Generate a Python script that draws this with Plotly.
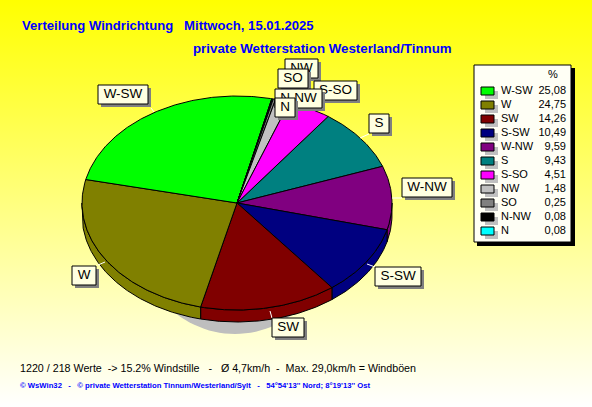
import math
import plotly.graph_objects as go

# ---- data ----
legend_names = ["W-SW", "W", "SW", "S-SW", "W-NW", "S", "S-SO", "NW", "SO", "N-NW", "N"]
legend_values = [25.08, 24.75, 14.26, 10.49, 9.59, 9.43, 4.51, 1.48, 0.25, 0.08, 0.08]
legend_colors = ["#00FF00", "#808000", "#800000", "#000080", "#800080", "#008080",
                 "#FF00FF", "#C0C0C0", "#808080", "#000000", "#00FFFF"]
wedge_order = ["S", "W-NW", "S-SW", "SW", "W", "W-SW", "N-NW", "N", "SO", "NW", "S-SO"]
title_1 = "Verteilung Windrichtung\u00a0\u00a0\u00a0Mittwoch, 15.01.2025"
title_2 = "private Wetterstation Westerland/Tinnum"
stats_text = "1220 / 218 Werte  -> 15.2% Windstille   -   Ø 4,7km/h  -  Max. 29,0km/h = Windböen"
footer_text = "© WsWin32   -   © private Wetterstation Tinnum/Westerland/Sylt   -   54°54'13'' Nord; 8°19'13'' Ost"

W, H = 592, 407
CX, CY, RX, RY, DEPTH = 237, 203, 155, 107, 12
START = 36.0
FONT = "Liberation Sans"
BLUE = "#0000FF"

fig = go.Figure()


def poly(xs, ys, fill, line=None, width=1, gradient=None):
    kw = dict(x=xs, y=ys, mode="lines", fill="toself", hoverinfo="skip", showlegend=False,
              line=dict(color=line or "rgba(0,0,0,0)", width=width if line else 0))
    if gradient:
        kw["fillgradient"] = gradient
    else:
        kw["fillcolor"] = fill
    fig.add_trace(go.Scatter(**kw))


def rect(x0, y0, x1, y1, fill, line=None, width=1):
    poly([x0, x1, x1, x0, x0], [y0, y0, y1, y1, y0], fill, line, width)


def text(x, y, s, size, color="#000000", anchor="left", bold=False):
    pos = {"left": "middle right", "right": "middle left", "center": "middle center"}[anchor]
    t = "<b>%s</b>" % s if bold else s
    fig.add_trace(go.Scatter(x=[x], y=[y], mode="text", text=[t], textposition=pos,
                             textfont=dict(family=FONT, size=size, color=color),
                             hoverinfo="skip", showlegend=False, cliponaxis=False))


def pt(t, dy=0):
    a = math.radians(t)
    return CX + RX * math.sin(a), CY - RY * math.cos(a) + dy


def arc(a, b, dy=0):
    n = max(2, int(abs(b - a) * 2) + 2)
    ps = [pt(a + (b - a) * i / (n - 1), dy) for i in range(n)]
    return [p[0] for p in ps], [p[1] for p in ps]


# background gradient
poly([0, W, W, 0, 0], [0, 0, H, H, 0], None, gradient=dict(
    type="vertical", colorscale=[[0, "#FFFFFF"], [1, "#FFFF00"]]))

# shadow of the pie
sx = [235 + 100 * math.cos(math.radians(i)) for i in range(0, 361, 3)]
sy = [228 + 106 * math.sin(math.radians(i)) for i in range(0, 361, 3)]
poly(sx, sy, "#BEBEBE")

# wedges
value_of = dict(zip(legend_names, legend_values))
color_of = dict(zip(legend_names, legend_colors))
total = sum(legend_values)
spans = []
a = START
for name in wedge_order:
    b = a + value_of[name] / total * 360
    spans.append((name, a, b))
    a = b

# side wall (front half only)
for name, a, b in spans:
    lo, hi = max(a, 90), min(b, 270)
    if lo < hi:
        x1, y1 = arc(lo, hi)
        x2, y2 = arc(hi, lo, DEPTH)
        poly(x1 + x2 + x1[:1], y1 + y2 + y1[:1], color_of[name], "#000000", 1)

# top surface
for name, a, b in spans:
    x1, y1 = arc(a, b)
    poly([CX] + x1 + [CX], [CY] + y1 + [CY], color_of[name], "#000000", 1)

# labels with leader lines, in drawing order
labels = [
    ("NW", 285, 59, 318, 78), ("S-SO", 314, 81, 357, 100), ("SO", 278, 69, 308, 88),
    ("N-NW", 275, 89, 322, 108), ("N", 275, 98, 295, 117), ("S", 369, 114, 389, 133),
    ("W-NW", 402, 178, 452, 197), ("S-SW", 375, 267, 421, 286), ("W-SW", 98, 85, 148, 104),
    ("W", 72, 266, 96, 285), ("SW", 272, 318, 304, 337),
]
leaders = [((360, 138), (369, 134)), ((392, 198), (402, 198)), ((367, 264), (375, 267)),
           ((98, 265), (105, 262)), ((270, 311), (272, 318)), ((151, 108), (154, 112))]
for p, q in leaders:
    fig.add_trace(go.Scatter(x=[p[0], q[0]], y=[p[1], q[1]], mode="lines", hoverinfo="skip",
                             showlegend=False, line=dict(color="#FFFFFF", width=1)))
for name, x0, y0, x1, y1 in labels:
    rect(x0 + 3, y0 + 3, x1 + 3, y1 + 3, "#808080")
    rect(x0, y0, x1, y1, "#FFFFE1", "#000000", 1)
    text((x0 + x1) / 2, (y0 + y1) / 2 + 0.5, name, 13.5, anchor="center")

# legend box
rect(477, 68, 575, 246, "#000000")
rect(474, 65, 571, 242, "#FFFFF5", "#000000", 1)
text(553, 75, "%", 11, anchor="center")
for i, (name, val, col) in enumerate(zip(legend_names, legend_values, legend_colors)):
    y = 91 + i * 14
    rect(485, y + 0, 498, y + 8, "#C0C0C0")
    rect(481, y - 4, 494, y + 4, col, "#000000", 1)
    text(501, y, name, 11)
    text(566, y, ("%.2f" % val).replace(".", ","), 11, anchor="right")

# titles
text(22, 26.5, title_1, 13.1, BLUE, bold=True)
text(193, 50, title_2, 13.3, BLUE, bold=True)
text(20, 369.5, stats_text, 10.7)
text(20, 386.5, footer_text, 7.7, BLUE, bold=True)

fig.update_layout(
    width=W, height=H, margin=dict(l=0, r=0, t=0, b=0),
    paper_bgcolor="#FFFFFF", plot_bgcolor="rgba(0,0,0,0)", showlegend=False,
    xaxis=dict(range=[0, W], visible=False, fixedrange=True),
    yaxis=dict(range=[H, 0], visible=False, fixedrange=True),
)
fig.write_html("out.html", config={"displayModeBar": False},
               post_script="document.body.style.margin='0';")
